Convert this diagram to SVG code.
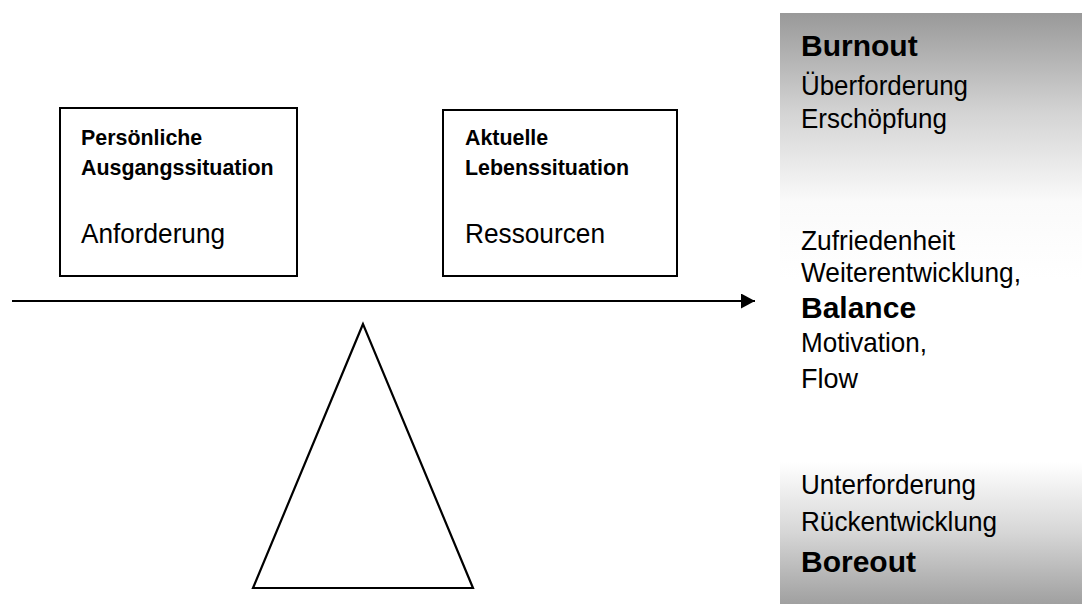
<svg xmlns="http://www.w3.org/2000/svg" width="1082" height="604" viewBox="0 0 1082 604">
<defs>
<style>
text{font-family:"Liberation Sans",Arial,sans-serif;fill:#000}
.hs{font-size:21.4px;font-weight:bold}
.r{font-size:28.5px}
.big{font-size:30px;font-weight:bold}
.box{fill:#fff;stroke:#000;stroke-width:2}
</style>
<linearGradient id="g" gradientUnits="userSpaceOnUse" x1="0" y1="13" x2="0" y2="604">
<stop offset="0" stop-color="#999"/>
<stop offset="0.17" stop-color="#d4d4d4"/>
<stop offset="0.32" stop-color="#fafafa"/>
<stop offset="0.45" stop-color="#fff"/>
<stop offset="0.76" stop-color="#fff"/>
<stop offset="0.88" stop-color="#d6d6d6"/>
<stop offset="1" stop-color="#a0a0a0"/>
</linearGradient>
<marker id="ah" markerWidth="14" markerHeight="15" refX="14" refY="7.5" orient="auto" markerUnits="userSpaceOnUse">
<path d="M0,0 L14,7.5 L0,15 Z" fill="#000"/>
</marker>
</defs>
<rect width="1082" height="604" fill="#fff"/>
<g id="panel">
<rect x="780" y="13" width="302" height="591" fill="url(#g)"/>
<text class="big" x="801" y="56">Burnout</text>
<text class="r" x="801" y="95" textLength="167" lengthAdjust="spacingAndGlyphs">Überforderung</text>
<text class="r" x="801" y="128" textLength="146" lengthAdjust="spacingAndGlyphs">Erschöpfung</text>
<text class="r" x="801" y="250" textLength="154" lengthAdjust="spacingAndGlyphs">Zufriedenheit</text>
<text class="r" x="801" y="282" textLength="220" lengthAdjust="spacingAndGlyphs">Weiterentwicklung,</text>
<text class="big" x="801" y="318">Balance</text>
<text class="r" x="801" y="352" textLength="126" lengthAdjust="spacingAndGlyphs">Motivation,</text>
<text class="r" x="801" y="388" textLength="57" lengthAdjust="spacingAndGlyphs">Flow</text>
<text class="r" x="801" y="494" textLength="175" lengthAdjust="spacingAndGlyphs">Unterforderung</text>
<text class="r" x="801" y="531" textLength="196" lengthAdjust="spacingAndGlyphs">Rückentwicklung</text>
<text class="big" x="801" y="572">Boreout</text>
</g>
<g id="box1">
<rect class="box" x="60" y="108" width="237" height="168"/>
<text class="hs" x="81" y="145">Persönliche</text>
<text class="hs" x="81" y="175">Ausgangssituation</text>
<text class="r" x="81" y="243" textLength="144" lengthAdjust="spacingAndGlyphs">Anforderung</text>
</g>
<g id="box2">
<rect class="box" x="443" y="110" width="234" height="166"/>
<text class="hs" x="465" y="145">Aktuelle</text>
<text class="hs" x="465" y="175">Lebenssituation</text>
<text class="r" x="465" y="243" textLength="140" lengthAdjust="spacingAndGlyphs">Ressourcen</text>
</g>
<g id="fulcrum">
<polygon points="363,324 253,588 473,588" fill="#fff" stroke="#000" stroke-width="2.2"/>
</g>
<g id="connectors">
<line x1="12" y1="301" x2="755" y2="301" stroke="#000" stroke-width="2" marker-end="url(#ah)"/>
</g>
</svg>
